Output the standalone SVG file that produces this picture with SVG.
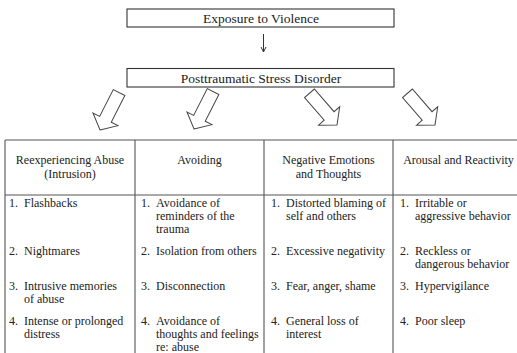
<svg xmlns="http://www.w3.org/2000/svg" width="517" height="353" viewBox="0 0 517 353" font-family="'Liberation Serif', 'DejaVu Serif', serif">
<style>
text{font-family:'Liberation Serif','DejaVu Serif',serif;fill:#222;}
.top{font-size:13.5px;text-anchor:middle;}
.hd{font-size:12px;text-anchor:middle;}
.it{font-size:12px;}
.box{fill:#fff;stroke:#333;stroke-width:1.1;}
.grid{stroke:#555;stroke-width:1.1;fill:none;}
.barrow{fill:#fff;stroke:#444;stroke-width:1;stroke-linejoin:miter;}
</style>
<defs>
<polygon id="blk" class="barrow" points="0,0 14,-12 6.5,-12 6.5,-42 -6.5,-42 -6.5,-12 -14,-12"/>
</defs>
<rect width="517" height="353" fill="#fff"/>
<g id="exposure">
<rect class="box" x="127" y="9" width="267" height="18"/>
<text class="top" x="261" y="22.5">Exposure to Violence</text>
</g>
<g id="ptsd">
<rect class="box" x="127" y="68.5" width="267" height="18.5"/>
<text class="top" x="261" y="82.5">Posttraumatic Stress Disorder</text>
</g>
<g id="connectors">
<line x1="263.5" y1="34" x2="263.5" y2="51" stroke="#333" stroke-width="1"/>
<path d="M261,47 L263.5,52 L266,47" fill="none" stroke="#333" stroke-width="1"/>
<use href="#blk" transform="translate(100,130) rotate(27)"/>
<use href="#blk" transform="translate(194,129) rotate(27)"/>
<use href="#blk" transform="translate(337,125) rotate(-41)"/>
<use href="#blk" transform="translate(435,125) rotate(-41)"/>
</g>
<g id="table">
<path class="grid" d="M5,140 H530 M5,195 H530 M5,140 V360 M135,140 V360 M264,140 V360 M393,140 V360"/>
</g>
<g id="col-reexperiencing">
<text class="hd" x="70" y="164">Reexperiencing Abuse</text>
<text class="hd" x="70" y="178">(Intrusion)</text>
<text class="it" x="9" y="207">1.</text><text class="it" x="24" y="207">Flashbacks</text>
<text class="it" x="9" y="255">2.</text><text class="it" x="24" y="255">Nightmares</text>
<text class="it" x="9" y="290">3.</text><text class="it" x="24" y="290">Intrusive memories</text>
<text class="it" x="24" y="303">of abuse</text>
<text class="it" x="9" y="325">4.</text><text class="it" x="24" y="325">Intense or prolonged</text>
<text class="it" x="24" y="338">distress</text>
</g>
<g id="col-avoiding">
<text class="hd" x="199.5" y="164">Avoiding</text>
<text class="it" x="141" y="207">1.</text><text class="it" x="156" y="207">Avoidance of</text>
<text class="it" x="156" y="220">reminders of the</text>
<text class="it" x="156" y="233">trauma</text>
<text class="it" x="141" y="255">2.</text><text class="it" x="156" y="255">Isolation from others</text>
<text class="it" x="141" y="290">3.</text><text class="it" x="156" y="290">Disconnection</text>
<text class="it" x="141" y="325">4.</text><text class="it" x="156" y="325">Avoidance of</text>
<text class="it" x="156" y="338">thoughts and feelings</text>
<text class="it" x="156" y="351">re: abuse</text>
</g>
<g id="col-negative">
<text class="hd" x="328.5" y="164">Negative Emotions</text>
<text class="hd" x="328.5" y="178">and Thoughts</text>
<text class="it" x="271" y="207">1.</text><text class="it" x="286" y="207">Distorted blaming of</text>
<text class="it" x="286" y="220">self and others</text>
<text class="it" x="271" y="255">2.</text><text class="it" x="286" y="255">Excessive negativity</text>
<text class="it" x="271" y="290">3.</text><text class="it" x="286" y="290">Fear, anger, shame</text>
<text class="it" x="271" y="325">4.</text><text class="it" x="286" y="325">General loss of</text>
<text class="it" x="286" y="338">interest</text>
</g>
<g id="col-arousal">
<text class="hd" x="458.5" y="164">Arousal and Reactivity</text>
<text class="it" x="400" y="207">1.</text><text class="it" x="415" y="207">Irritable or</text>
<text class="it" x="415" y="220">aggressive behavior</text>
<text class="it" x="400" y="255">2.</text><text class="it" x="415" y="255">Reckless or</text>
<text class="it" x="415" y="268">dangerous behavior</text>
<text class="it" x="400" y="290">3.</text><text class="it" x="415" y="290">Hypervigilance</text>
<text class="it" x="400" y="325">4.</text><text class="it" x="415" y="325">Poor sleep</text>
</g>
</svg>
